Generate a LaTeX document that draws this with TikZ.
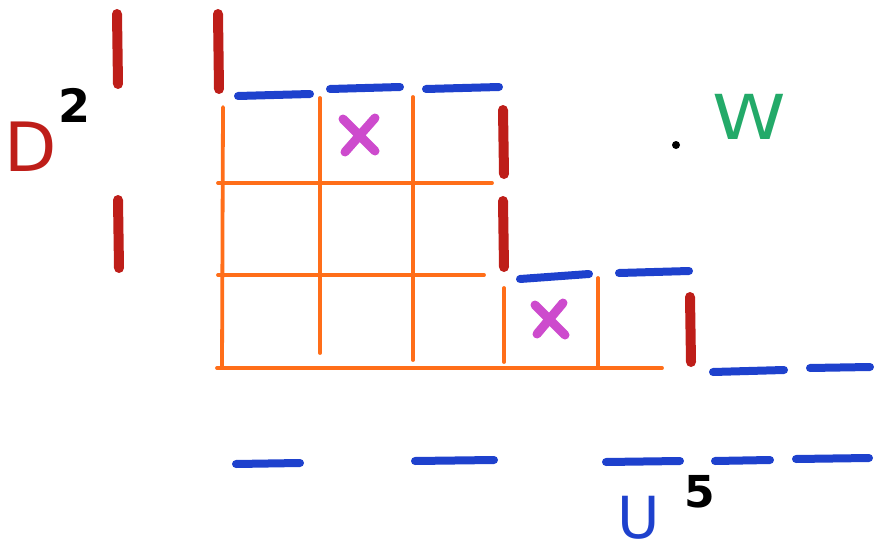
\documentclass[tikz,border=0pt]{standalone}
\usepackage{fontspec}
\setmainfont{DejaVu Sans}
\definecolor{bred}{RGB}{190,30,25}
\definecolor{gorange}{RGB}{255,110,25}
\definecolor{dblue}{RGB}{30,65,205}
\definecolor{xmag}{RGB}{205,75,205}
\definecolor{wgreen}{RGB}{35,170,105}
\begin{document}
\begin{tikzpicture}[x=1pt,y=-1pt,
  redbar/.style={draw=bred,line width=10pt,line cap=round},
  bluedash/.style={draw=dblue,line width=8pt,line cap=round},
  gridline/.style={draw=gorange,line width=3.8pt,line cap=round},
  cross/.style={draw=xmag,line width=9pt,line cap=round},
  lbl/.style={inner sep=0pt,anchor=base west}]
\useasboundingbox (0,0) rectangle (881,551);
% orange grid
\draw[gridline] (218,183) -- (492,183);
\draw[gridline] (218,275) -- (484,275);
\draw[gridline] (217,368) -- (662,368);
\draw[gridline] (223,107) -- (222,368);
\draw[gridline] (320,98) -- (320,353);
\draw[gridline] (413,97) -- (413,360);
\draw[gridline] (504,288) -- (504,362);
\draw[gridline] (598,278) -- (598,366);
% red bars
\draw[redbar] (117,14) -- (118,84);
\draw[redbar] (118,200) -- (119,268);
\draw[redbar] (218,14) -- (219,89);
\draw[redbar] (503,110) -- (504,174);
\draw[redbar] (503,201) -- (504,267);
\draw[redbar] (690,297) -- (691,362);
% blue dashes
\draw[bluedash] (238,96) -- (310,94);
\draw[bluedash] (330,89) -- (400,87);
\draw[bluedash] (426,89) -- (499,87);
\draw[bluedash] (520,279) -- (589,274);
\draw[bluedash] (619,273) -- (689,271);
\draw[bluedash] (713,372) -- (784,370);
\draw[bluedash] (810,368) -- (870,367);
\draw[bluedash] (236,464) -- (300,463);
\draw[bluedash] (415,461) -- (494,460);
\draw[bluedash] (606,462) -- (680,461);
\draw[bluedash] (715,461) -- (770,460);
\draw[bluedash] (796,459) -- (869,458);
% crosses
\draw[cross] (343,119) -- (375,151) (375,118) -- (345,152);
\draw[cross] (535,305) -- (565,335) (563,303) -- (537,334);
% labels
\node[lbl,text=bred,font=\fontsize{68}{68}\selectfont] (dlab) at (4,171) {D};
\node[lbl,text=black,font=\bfseries\fontsize{46}{46}\selectfont] (dexp) at (58,122) {2};
\node[lbl,text=wgreen,font=\fontsize{62}{62}\selectfont,xscale=1.2] (wlab) at (712,139) {W};
\node[fill=black,circle,inner sep=0pt,minimum size=8pt] (dot) at (676,145) {};
\node[lbl,text=dblue,font=\fontsize{58}{58}\selectfont] (ulab) at (617,538) {U};
\node[lbl,text=black,font=\bfseries\fontsize{44}{44}\selectfont] (uexp) at (684,507) {5};
\end{tikzpicture}
\end{document}
